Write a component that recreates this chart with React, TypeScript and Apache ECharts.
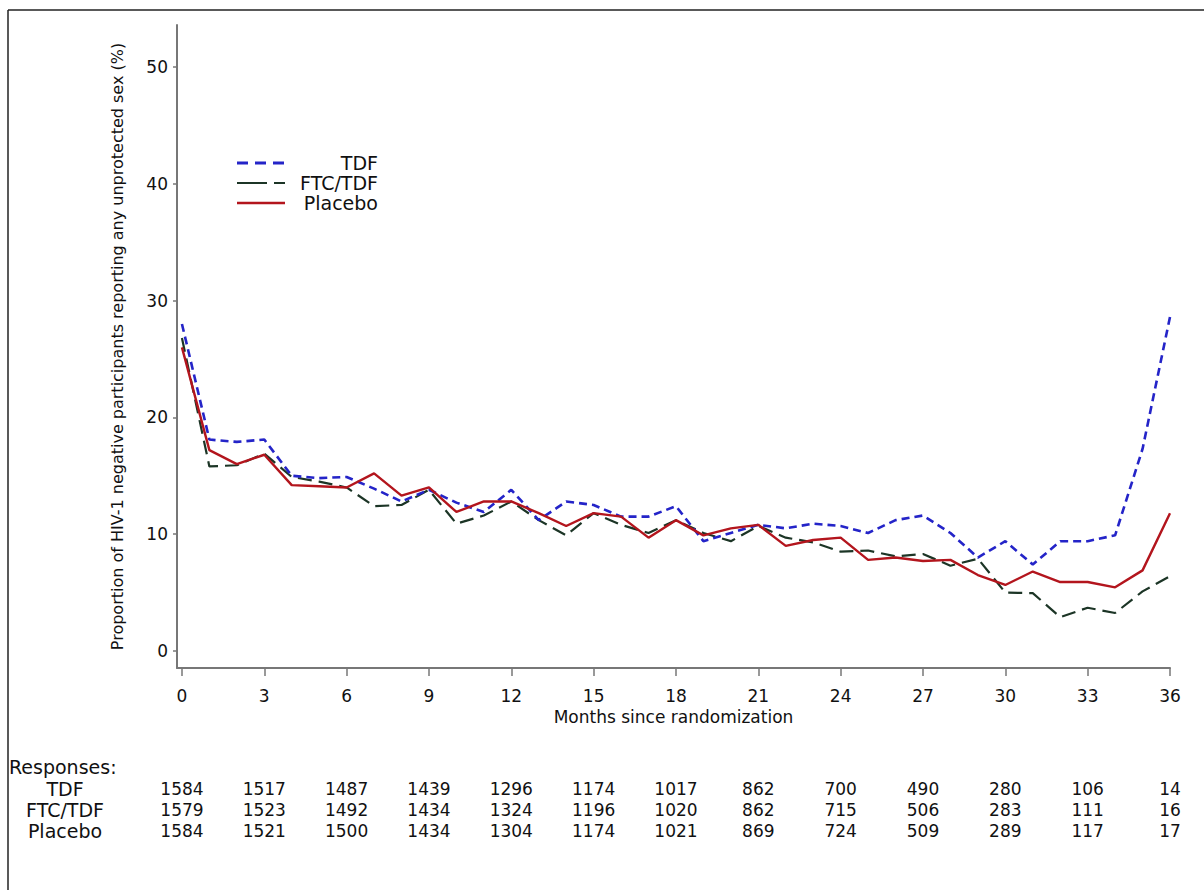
import React, { useEffect, useRef } from "react";
import * as echarts from "echarts";

const months = Array.from({ length: 37 }, (_, i) => i);
const tdf = [28.0, 18.1, 17.9, 18.1, 15.0, 14.8, 14.9, 13.9, 12.8, 13.8, 12.7, 11.9, 13.8, 11.2, 12.8, 12.5, 11.5, 11.5, 12.4, 9.4, 10.1, 10.8, 10.5, 10.9, 10.7, 10.1, 11.2, 11.6, 10.1, 8.0, 9.4, 7.4, 9.4, 9.4, 9.9, 17.3, 28.6];
const ftcTdf = [26.8, 15.8, 15.9, 16.9, 14.9, 14.5, 14.0, 12.4, 12.5, 13.8, 10.9, 11.6, 12.8, 11.2, 9.9, 11.8, 10.8, 10.1, 11.2, 10.1, 9.4, 10.7, 9.7, 9.3, 8.5, 8.6, 8.1, 8.3, 7.3, 7.9, 5.0, 4.95, 2.9, 3.7, 3.25, 5.1, 6.4];
const placebo = [26.0, 17.2, 16.0, 16.8, 14.2, 14.1, 14.0, 15.2, 13.3, 14.0, 11.9, 12.8, 12.8, 11.8, 10.7, 11.8, 11.5, 9.7, 11.2, 9.9, 10.5, 10.8, 9.0, 9.5, 9.7, 7.8, 8.0, 7.7, 7.8, 6.5, 5.65, 6.8, 5.9, 5.9, 5.45, 6.9, 11.8];

const xTicks = [0, 3, 6, 9, 12, 15, 18, 21, 24, 27, 30, 33, 36];
const yTicks = [0, 10, 20, 30, 40, 50];

const seriesNames = ["TDF", "FTC/TDF", "Placebo"];
const responsesTDF = [1584, 1517, 1487, 1439, 1296, 1174, 1017, 862, 700, 490, 280, 106, 14];
const responsesFTC = [1579, 1523, 1492, 1434, 1324, 1196, 1020, 862, 715, 506, 283, 111, 16];
const responsesPlacebo = [1584, 1521, 1500, 1434, 1304, 1174, 1021, 869, 724, 509, 289, 117, 17];
const responseRows = [responsesTDF, responsesFTC, responsesPlacebo];

const FONT = "DejaVu Sans, Arial, Helvetica, sans-serif";
const BLUE = "#2424c8";
const DARK = "#1c3526";
const RED = "#b3151d";

export default function App() {
  const ref = useRef<HTMLDivElement>(null);
  useEffect(() => {
    document.body.style.margin = "0";
    const chart = echarts.init(ref.current!, null, { renderer: "svg" });
    const toPairs = (arr: number[]) => months.map((m, i) => [m, arr[i]]);

    const tableAxes = responseRows.map((row, r) => ({
      type: "value" as const,
      gridIndex: 0,
      position: "bottom" as const,
      offset: 112 + r * 21,
      min: -0.18,
      max: 36,
      axisLine: { show: false },
      axisTick: { show: false },
      splitLine: { show: false },
      axisLabel: {
        customValues: xTicks,
        margin: 0,
        color: "#111",
        fontSize: 17,
        fontFamily: FONT,
        formatter: (v: number) => {
          const idx = xTicks.indexOf(Math.round(v));
          return idx >= 0 ? String(row[idx]) : "";
        },
      },
    }));

    chart.setOption({
      animation: false,
      backgroundColor: "#fff",
      textStyle: { fontFamily: FONT },
      grid: { left: 177, right: 34, top: 25, bottom: 222, containLabel: false },
      xAxis: [
        {
          type: "value",
          min: -0.18,
          max: 36,
          name: "Months since randomization",
          nameLocation: "middle",
          nameGap: 34,
          nameTextStyle: { color: "#111", fontSize: 17, fontFamily: FONT },
          axisLine: { show: true, onZero: false, lineStyle: { color: "#777", width: 2 } },
          axisTick: { show: true, customValues: xTicks, length: 8, lineStyle: { color: "#777", width: 1.5 } },
          axisLabel: { customValues: xTicks, margin: 19, color: "#111", fontSize: 17, fontFamily: FONT },
          splitLine: { show: false },
        },
        ...tableAxes,
      ],
      yAxis: {
        type: "value",
        min: -1.46,
        max: 53.6,
        name: "Proportion of HIV-1 negative participants reporting any unprotected sex (%)",
        nameLocation: "middle",
        nameGap: 52,
        nameTextStyle: { color: "#111", fontSize: 16, fontFamily: FONT },
        axisLine: { show: true, onZero: false, lineStyle: { color: "#777", width: 2 } },
        axisTick: { show: true, customValues: yTicks, length: 4, lineStyle: { color: "#777", width: 1.5 } },
        axisLabel: { customValues: yTicks, margin: 9, color: "#111", fontSize: 17, fontFamily: FONT },
        splitLine: { show: false },
      },
      series: [
        {
          name: seriesNames[0],
          type: "line",
          data: toPairs(tdf),
          showSymbol: false,
          lineStyle: { color: BLUE, width: 2.6, type: [8, 5] },
          z: 3,
        },
        {
          name: seriesNames[1],
          type: "line",
          data: toPairs(ftcTdf),
          showSymbol: false,
          lineStyle: { color: DARK, width: 2.2, type: [14, 7] },
          z: 2,
        },
        {
          name: seriesNames[2],
          type: "line",
          data: toPairs(placebo),
          showSymbol: false,
          lineStyle: { color: RED, width: 2.4 },
          z: 4,
        },
      ],
      graphic: [
        { type: "line", shape: { x1: 8, y1: 10, x2: 1204, y2: 10 }, style: { stroke: "#222", lineWidth: 1.5 } },
        { type: "line", shape: { x1: 8, y1: 10, x2: 8, y2: 890 }, style: { stroke: "#222", lineWidth: 1.5 } },
        // legend
        { type: "line", shape: { x1: 237, y1: 163, x2: 285, y2: 163 }, style: { stroke: BLUE, lineWidth: 3, lineDash: [11, 7] } },
        { type: "line", shape: { x1: 237, y1: 183, x2: 285, y2: 183 }, style: { stroke: DARK, lineWidth: 2, lineDash: [30, 7, 11, 7] } },
        { type: "line", shape: { x1: 237, y1: 203, x2: 285, y2: 203 }, style: { stroke: RED, lineWidth: 2.6 } },
        ...seriesNames.map((n, i) => ({
          type: "text",
          x: 378,
          y: 163 + i * 20,
          style: { text: n, fill: "#111", font: `19px ${FONT}`, align: "right", verticalAlign: "middle" },
        })),
        // table labels
        {
          type: "text",
          x: 9,
          y: 767,
          style: { text: "Responses:", fill: "#111", font: `19px ${FONT}`, align: "left", verticalAlign: "middle" },
        },
        ...seriesNames.map((n, i) => ({
          type: "text",
          x: 65,
          y: 789 + i * 21,
          style: { text: n, fill: "#111", font: `19px ${FONT}`, align: "center", verticalAlign: "middle" },
        })),
      ],
    });
    return () => chart.dispose();
  }, []);
  return <div ref={ref} style={{ width: 1204, height: 890 }} />;
}
